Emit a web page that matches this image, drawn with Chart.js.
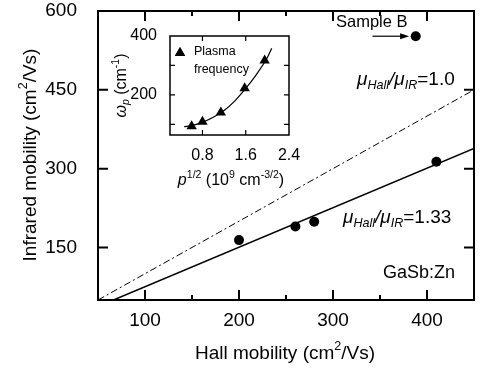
<!DOCTYPE html>
<html>
<head>
<meta charset="utf-8">
<script src="https://cdn.jsdelivr.net/npm/chart.js@4.4.0/dist/chart.umd.min.js"></script>
<style>
  html, body { margin: 0; padding: 0; background: #fff; }
  #wrap { position: relative; width: 481px; height: 374px; }
  #main { position: absolute; left: 0; top: 0; }
  #inset { position: absolute; left: 105px; top: 25px; }
</style>
</head>
<body>
<div id="wrap">
  <canvas id="main" width="481" height="374"></canvas>
  <canvas id="inset" width="200" height="170"></canvas>
</div>
<script>
// main plot data
const hallMobility = [200, 260, 280, 410];
const irMobility = [164, 190, 199, 313];
const sampleBHall = [388];
const sampleBIR = [552];
// ratio lines (mu_Hall / mu_IR = 1.0 and 1.33)
const ratio1Hall = [50, 450];
const ratio1IR = [50, 450];
const ratio133Hall = [66.5, 450];
const ratio133IR = [50, 338.3];
const xTicks = [100, 200, 300, 400];
const xMinorTicks = [150, 250, 350];
const yTicks = [150, 300, 450, 600];

// inset data
const sqrtP = [0.6, 0.8, 1.14, 1.58, 1.95];
const plasmaFreq = [94, 109, 140, 223, 317];
const fitSqrtP = [0.46, 0.6, 0.8, 1.0, 1.2, 1.4, 1.6, 1.8, 2.0, 2.08];
const fitFreq = [92, 96, 107, 124, 147, 180, 222, 270, 327, 358];
const insetXTicks = [0.8, 1.6, 2.4];
const insetYTicks = [200, 400];
const insetYMinor = [100, 300];

const FONT = '"Liberation Sans", Arial, Helvetica, sans-serif';
Chart.defaults.font.family = FONT;
Chart.defaults.color = '#000';

const pts = (xs, ys) => xs.map((v, i) => ({ x: v, y: ys[i] }));

// keep the plot area where the layout padding puts it
const noPad = s => { s.paddingLeft = 0; s.paddingRight = 0; s.paddingTop = 0; s.paddingBottom = 0; };

// text with sub/superscripts: parts = [[text, flags]], flags: i=italic, b=sub, p=sup
function richText(ctx, parts, x, y, size, align) {
  const items = parts.map(([t, f = '']) => {
    const small = f.includes('b') || f.includes('p');
    const s = small ? size * 0.66 : size;
    const font = (f.includes('i') ? 'italic ' : '') + s + 'px ' + FONT;
    ctx.font = font;
    const dy = f.includes('p') ? -size * 0.38 : f.includes('b') ? size * 0.28 : 0;
    return { t, font, dy, w: ctx.measureText(t).width };
  });
  const total = items.reduce((a, it) => a + it.w, 0);
  let cx = align === 'center' ? x - total / 2 : x;
  ctx.textAlign = 'left';
  ctx.textBaseline = 'middle';
  ctx.fillStyle = '#000';
  items.forEach(it => {
    ctx.font = it.font;
    ctx.fillText(it.t, cx, y + it.dy);
    cx += it.w;
  });
}

function frameAndTicks(chart, cfg) {
  const { ctx, chartArea: a } = chart;
  const sx = chart.scales.x, sy = chart.scales.y;
  ctx.save();
  ctx.strokeStyle = '#000';
  ctx.lineWidth = cfg.tickWidth;
  ctx.beginPath();
  const xs = cfg.xMajor.map(v => [v, cfg.major]).concat(cfg.xMinor.map(v => [v, cfg.minor]));
  xs.forEach(([v, len]) => {
    const p = sx.getPixelForValue(v);
    ctx.moveTo(p, a.bottom); ctx.lineTo(p, a.bottom - len);
    ctx.moveTo(p, a.top); ctx.lineTo(p, a.top + len);
  });
  const ys = cfg.yMajor.map(v => [v, cfg.major]).concat(cfg.yMinor.map(v => [v, cfg.minor]));
  ys.forEach(([v, len]) => {
    const p = sy.getPixelForValue(v);
    ctx.moveTo(a.left, p); ctx.lineTo(a.left + len, p);
    ctx.moveTo(a.right, p); ctx.lineTo(a.right - len, p);
  });
  ctx.stroke();
  ctx.lineWidth = cfg.frameWidth;
  ctx.strokeRect(a.left, a.top, a.right - a.left, a.bottom - a.top);
  ctx.restore();
}

const mainDecor = {
  id: 'mainDecor',
  afterDraw(chart) {
    const { ctx } = chart;
    const sx = chart.scales.x, sy = chart.scales.y;
    frameAndTicks(chart, {
      xMajor: [100, 200, 300, 400], xMinor: xMinorTicks,
      yMajor: [150, 300, 450], yMinor: [],
      major: 10, minor: 5, tickWidth: 2, frameWidth: 2
    });
    ctx.save();
    richText(ctx, [['Hall mobility (cm'], ['2', 'p'], ['/Vs)']], 285, 354, 19, 'center');
    ctx.save();
    ctx.translate(31, 155);
    ctx.rotate(-Math.PI / 2);
    richText(ctx, [['Infrared mobility (cm'], ['2', 'p'], ['/Vs)']], 0, 0, 19, 'center');
    ctx.restore();
    richText(ctx, [['\u03bc', 'i'], ['Hall', 'ib'], ['/', 'i'], ['\u03bc', 'i'], ['IR', 'ib'], ['=1.0']], 357, 80, 19, 'left');
    richText(ctx, [['\u03bc', 'i'], ['Hall', 'ib'], ['/', 'i'], ['\u03bc', 'i'], ['IR', 'ib'], ['=1.33']], 343, 218, 19, 'left');
    richText(ctx, [['GaSb:Zn']], 383, 273, 18, 'left');
    richText(ctx, [['Sample B']], 336, 22, 16.5, 'left');
    // arrow towards sample B
    const ay = sy.getPixelForValue(sampleBIR[0]);
    const x0 = sx.getPixelForValue(sampleBHall[0] - 46);
    const x1 = sx.getPixelForValue(sampleBHall[0] - 7);
    ctx.strokeStyle = '#000';
    ctx.lineWidth = 1.2;
    ctx.beginPath(); ctx.moveTo(x0, ay); ctx.lineTo(x1 - 6, ay); ctx.stroke();
    ctx.beginPath(); ctx.moveTo(x1, ay); ctx.lineTo(x1 - 9, ay - 3); ctx.lineTo(x1 - 9, ay + 3); ctx.closePath();
    ctx.fillStyle = '#000'; ctx.fill();
    ctx.restore();
  }
};

new Chart(document.getElementById('main'), {
  type: 'scatter',
  data: {
    datasets: [
      { data: pts(hallMobility, irMobility), pointRadius: 5, backgroundColor: '#000', borderColor: '#000', borderWidth: 0 },
      { data: pts(sampleBHall, sampleBIR), pointRadius: 5, backgroundColor: '#000', borderColor: '#000', borderWidth: 0 },
      { data: pts(ratio133Hall, ratio133IR), showLine: true, pointRadius: 0, borderColor: '#000', borderWidth: 1.5 },
      { data: pts(ratio1Hall, ratio1IR), showLine: true, pointRadius: 0, borderColor: '#000', borderWidth: 1, borderDash: [7, 3, 2, 3] }
    ]
  },
  options: {
    responsive: false,
    animation: false,
    events: [],
    layout: { padding: { top: 11, right: 7, left: 0, bottom: 0 } },
    plugins: { legend: { display: false }, tooltip: { enabled: false } },
    scales: {
      x: {
        type: 'linear', min: 50, max: 450,
        grid: { display: false }, border: { display: false },
        ticks: { font: { size: 19 }, color: '#000', padding: 1, maxRotation: 0, autoSkip: false },
        afterBuildTicks: s => { s.ticks = xTicks.map(v => ({ value: v })); },
        afterFit: s => { s.height = 74; noPad(s); }
      },
      y: {
        type: 'linear', min: 50, max: 600,
        grid: { display: false }, border: { display: false },
        ticks: { font: { size: 19 }, color: '#000', padding: 13, autoSkip: false },
        afterBuildTicks: s => { s.ticks = yTicks.map(v => ({ value: v })); },
        afterFit: s => { s.width = 98; noPad(s); }
      }
    }
  },
  plugins: [mainDecor]
});

const insetDecor = {
  id: 'insetDecor',
  afterDraw(chart) {
    const { ctx } = chart;
    frameAndTicks(chart, {
      xMajor: [0.8, 1.6], xMinor: [],
      yMajor: insetYTicks.filter(v => v < 400), yMinor: insetYMinor,
      major: 5, minor: 5, tickWidth: 1.2, frameWidth: 1.5
    });
    ctx.save();
    // legend
    Chart.helpers.drawPoint(ctx, { pointStyle: 'triangle', radius: 6, borderWidth: 0 }, 75, 28);
    ctx.fillStyle = '#000';
    ctx.fill();
    richText(ctx, [['Plasma']], 89, 27, 12.5, 'left');
    richText(ctx, [['frequency']], 89, 45, 12.5, 'left');
    richText(ctx, [['p', 'i'], ['1/2', 'p'], [' (10'], ['9', 'p'], [' cm'], ['-3/2', 'p'], [')']], 126, 156, 16, 'center');
    ctx.translate(17, 60.5);
    ctx.rotate(-Math.PI / 2);
    richText(ctx, [['\u03c9', 'i'], ['p', 'ib'], [' (cm'], ['-1', 'p'], [')']], 0, 0, 16, 'center');
    ctx.restore();
  }
};

new Chart(document.getElementById('inset'), {
  type: 'scatter',
  data: {
    datasets: [
      { data: pts(sqrtP, plasmaFreq), pointStyle: 'triangle', pointRadius: 6, backgroundColor: '#000', borderColor: '#000', borderWidth: 0 },
      { data: pts(fitSqrtP, fitFreq), showLine: true, pointRadius: 0, borderColor: '#000', borderWidth: 1.2, cubicInterpolationMode: 'monotone' }
    ]
  },
  options: {
    responsive: false,
    animation: false,
    events: [],
    layout: { padding: { top: 11, right: 16, left: 0, bottom: 0 } },
    plugins: { legend: { display: false }, tooltip: { enabled: false } },
    scales: {
      x: {
        type: 'linear', min: 0.2, max: 2.4,
        grid: { display: false }, border: { display: false },
        ticks: { font: { size: 16 }, color: '#000', padding: 3, maxRotation: 0, autoSkip: false },
        afterBuildTicks: s => { s.ticks = insetXTicks.map(v => ({ value: v })); },
        afterFit: s => { s.height = 60; noPad(s); }
      },
      y: {
        type: 'linear', min: 64, max: 400,
        grid: { display: false }, border: { display: false },
        ticks: { font: { size: 16 }, color: '#000', padding: 5, autoSkip: false },
        afterBuildTicks: s => { s.ticks = insetYTicks.map(v => ({ value: v })); },
        afterFit: s => { s.width = 65; noPad(s); }
      }
    }
  },
  plugins: [insetDecor]
});
</script>
</body>
</html>
